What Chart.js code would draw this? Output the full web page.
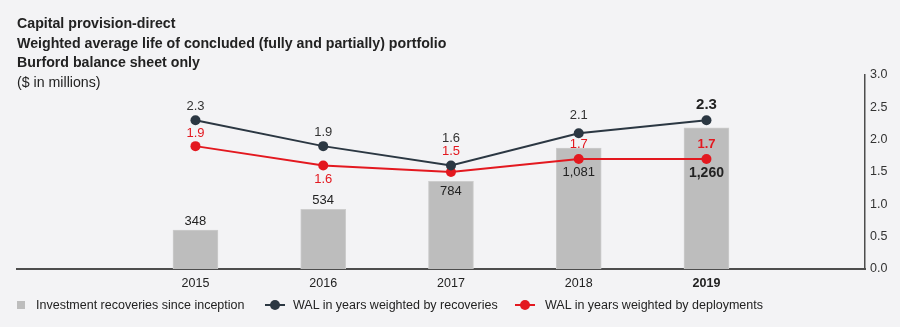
<!DOCTYPE html>
<html>
<head>
<meta charset="utf-8">
<script src="https://cdn.jsdelivr.net/npm/chart.js@4.4.1/dist/chart.umd.min.js"></script>
<style>
    html, body {
        margin: 0;
        padding: 0;
        background: #f3f3f5;
    }
    #wrap {
        position: relative;
        width: 900px;
        height: 327px;
        font-family: "Liberation Sans", Arial, sans-serif;
        color: #222;
    }
    #chart {
        position: absolute;
        left: 0;
        top: 0;
    }
    .heading {
        position: absolute;
        left: 17px;
        top: 14px;
        font-size: 14.2px;
        line-height: 19.5px;
    }
    .heading b {
        display: block;
        font-weight: bold;
    }
    .legend {
        position: absolute;
        left: 17px;
        top: 297px;
        font-size: 12.5px;
        line-height: 16px;
        white-space: nowrap;
    }
    .legend-item {
        position: absolute;
        top: 0;
    }
    .swatch-box {
        position: absolute;
        top: 4px;
        width: 8px;
        height: 8px;
        background: #bdbdbd;
    }
    .swatch-line {
        position: absolute;
        top: 7px;
        width: 20px;
        height: 2px;
    }
    .swatch-line::after {
        content: '';
        position: absolute;
        left: 5px;
        top: -4px;
        width: 10px;
        height: 10px;
        border-radius: 50%;
        background: inherit;
    }
</style>
</head>
<body>
<div id="wrap">
    <canvas id="chart" width="900" height="327"></canvas>
    <div class="heading">
        <b>Capital provision-direct</b>
        <b>Weighted average life of concluded (fully and partially) portfolio</b>
        <b>Burford balance sheet only</b>
        <span>($ in millions)</span>
    </div>
    <div class="legend">
        <div class="legend-item" style="left:0">
            <span class="swatch-box" style="left:0"></span>
            <span style="position:absolute;left:19px">Investment recoveries since inception</span>
        </div>
        <div class="legend-item" style="left:248px">
            <span class="swatch-line" style="left:0;background:#2b3742"></span>
            <span style="position:absolute;left:28px">WAL in years weighted by recoveries</span>
        </div>
        <div class="legend-item" style="left:498px">
            <span class="swatch-line" style="left:0;background:#e3181f"></span>
            <span style="position:absolute;left:30px">WAL in years weighted by deployments</span>
        </div>
    </div>
</div>

<script>
// Data
const years = [2015, 2016, 2017, 2018, 2019];
const recoveries = [348, 534, 784, 1081, 1260];
const walByRecoveries = [2.3, 1.9, 1.6, 2.1, 2.3];
const walByDeployments = [1.9, 1.6, 1.5, 1.7, 1.7];
const rightTicks = [0, 0.5, 1.0, 1.5, 2.0, 2.5, 3.0];

// Colours
const barColor = '#bdbdbd';
const darkColor = '#2b3742';
const redColor = '#e3181f';
const fontFamily = '"Liberation Sans", Arial, sans-serif';

// Vertical label offsets (px) from each mark
const barLabelOffset = [-9, -9, 10, 24, 45];
const recLabelOffset = [-14, -14, -27, -18, -15];
const depLabelOffset = [-13, 14, -21, -15, -15];

const lastYear = years[years.length - 1];

function pointsOf(values) {
    return years.map((year, i) => ({ x: year, y: values[i] }));
}

function formatThousands(n) {
    return n.toLocaleString('en-US');
}

// Draws the value labels next to bars and points
const valueLabels = {
    id: 'valueLabels',
    afterDatasetsDraw(chart) {
        const ctx = chart.ctx;
        ctx.save();
        ctx.textAlign = 'center';
        ctx.textBaseline = 'middle';

        const barMeta = chart.getDatasetMeta(0);
        barMeta.data.forEach((bar, i) => {
            const bold = years[i] === lastYear;
            ctx.font = (bold ? 'bold 14px ' : '13px ') + fontFamily;
            ctx.fillStyle = '#222';
            ctx.fillText(formatThousands(recoveries[i]), bar.x, bar.y + barLabelOffset[i]);
        });

        const recMeta = chart.getDatasetMeta(1);
        recMeta.data.forEach((pt, i) => {
            const bold = years[i] === lastYear;
            ctx.font = (bold ? 'bold 15px ' : '13px ') + fontFamily;
            ctx.fillStyle = bold ? '#222' : '#333';
            ctx.fillText(walByRecoveries[i].toFixed(1), pt.x, pt.y + recLabelOffset[i]);
        });

        const depMeta = chart.getDatasetMeta(2);
        depMeta.data.forEach((pt, i) => {
            const bold = years[i] === lastYear;
            ctx.font = (bold ? 'bold 13px ' : '13px ') + fontFamily;
            ctx.fillStyle = redColor;
            ctx.fillText(walByDeployments[i].toFixed(1), pt.x, pt.y + depLabelOffset[i]);
        });

        ctx.restore();
    }
};

const ctx = document.getElementById('chart').getContext('2d');

const myChart = new Chart(ctx, {
    type: 'bar',
    data: {
        datasets: [
            {
                type: 'bar',
                label: 'Investment recoveries since inception',
                data: pointsOf(recoveries),
                backgroundColor: barColor,
                borderColor: '#cdcdcd',
                borderWidth: 1,
                barThickness: 45,
                yAxisID: 'yBar',
                order: 2
            },
            {
                type: 'line',
                label: 'WAL in years weighted by recoveries',
                data: pointsOf(walByRecoveries),
                borderColor: darkColor,
                backgroundColor: darkColor,
                borderWidth: 2,
                pointRadius: 5,
                pointHoverRadius: 5,
                pointBorderWidth: 0,
                tension: 0,
                yAxisID: 'y',
                order: 0
            },
            {
                type: 'line',
                label: 'WAL in years weighted by deployments',
                data: pointsOf(walByDeployments),
                borderColor: redColor,
                backgroundColor: redColor,
                borderWidth: 2,
                pointRadius: 5,
                pointHoverRadius: 5,
                pointBorderWidth: 0,
                tension: 0,
                yAxisID: 'y',
                order: 1
            }
        ]
    },
    options: {
        responsive: false,
        animation: false,
        layout: {
            padding: { left: 17, top: 75, right: 0, bottom: 0 }
        },
        plugins: {
            legend: { display: false },
            tooltip: { enabled: false },
            title: { display: false }
        },
        scales: {
            x: {
                type: 'linear',
                offset: false,
                min: 2013.603,
                max: 2020.241,
                grid: { display: false, drawTicks: false, offset: false },
                border: { display: true, color: '#4d4d4d', width: 2 },
                afterBuildTicks: (scale) => {
                    scale.ticks = years.map(v => ({ value: v }));
                },
                afterFit: (scale) => {
                    scale.height = 58;
                },
                ticks: {
                    autoSkip: false,
                    maxRotation: 0,
                    padding: 7,
                    color: '#222',
                    font: (c) => ({
                        family: fontFamily,
                        size: 12.5,
                        weight: c.tick && c.tick.value === lastYear ? 'bold' : 'normal'
                    }),
                    callback: (value) => String(value)
                }
            },
            yBar: {
                display: false,
                position: 'left',
                min: 0,
                max: 1733
            },
            y: {
                position: 'right',
                min: 0,
                max: 3,
                grid: { display: false, drawTicks: false },
                border: { display: true, color: '#4d4d4d', width: 1.5 },
                afterBuildTicks: (scale) => {
                    scale.ticks = rightTicks.map(v => ({ value: v }));
                },
                afterFit: (scale) => {
                    scale.width = 35;
                },
                ticks: {
                    padding: 5,
                    color: '#333',
                    font: { family: fontFamily, size: 12.5 },
                    callback: (value) => Number(value).toFixed(1)
                }
            }
        }
    },
    plugins: [valueLabels]
});

console.log('Chart area', JSON.stringify(myChart.chartArea));
</script>
</body>
</html>
